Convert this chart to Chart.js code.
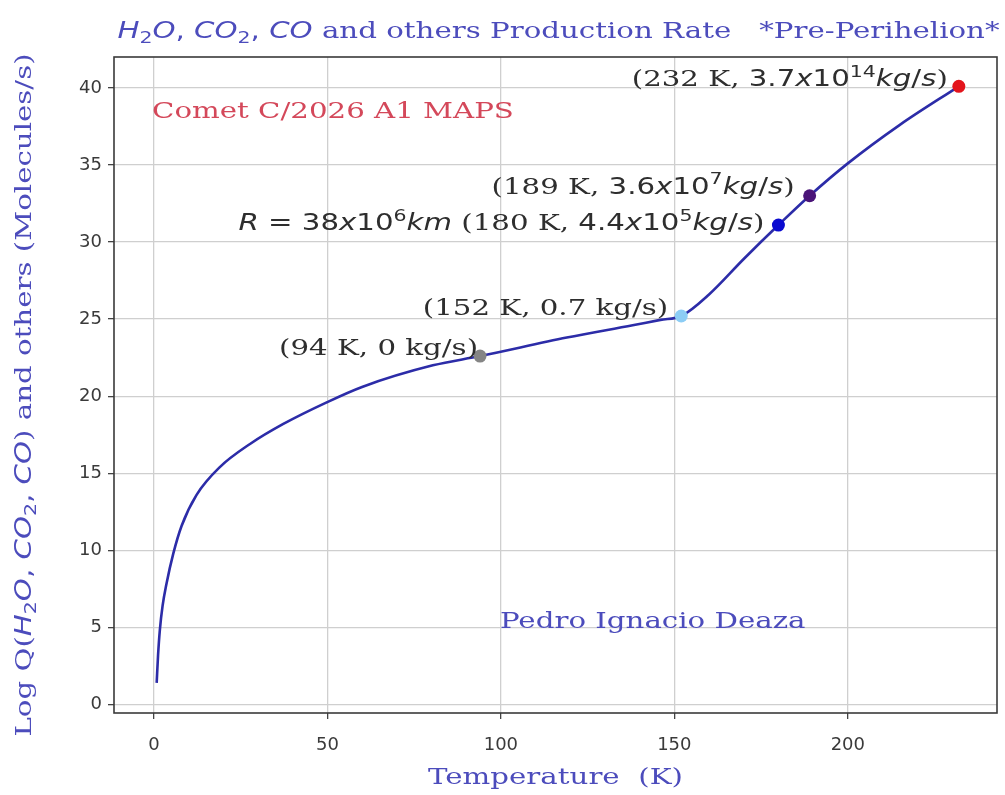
<!DOCTYPE html>
<html>
<head>
<meta charset="utf-8">
<script src="https://cdn.jsdelivr.net/npm/chart.js@4.4.1/dist/chart.umd.min.js"></script>
<style>
  html, body { margin: 0; padding: 0; background: #fff; }
  #wrap { width: 1005px; height: 795px; }
</style>
</head>
<body>
<div id="wrap"><canvas id="chart" width="1005" height="795"></canvas></div>
<script>
// production curve, temperature (K) vs log Q
const temperatureK = [0.8, 1.2, 1.7, 2.5, 3.6, 5.6, 8, 12.3, 19, 27.7, 37.3, 49.8, 60, 80.4, 94, 119, 138, 146, 152, 160, 170, 180, 189, 200, 215, 232];
const logQ =         [1.4, 3.2, 4.8, 6.4, 7.8, 9.8, 11.6, 13.6, 15.4, 16.9, 18.2, 19.6, 20.6, 22.0, 22.6, 23.8, 24.6, 24.95, 25.2, 26.6, 28.9, 31.1, 33.0, 35.1, 37.6, 40.1];

// highlighted points
const markerK = [94, 152, 180, 189, 232];
const markerQ = [22.6, 25.2, 31.1, 33.0, 40.1];
const markerColors = ['#858585', '#8ccdf5', '#0a0ad0', '#4a1478', '#e3141c'];
const markerLabels = [
  '(94 K, 0 kg/s)',
  '(152 K, 0.7 kg/s)',
  '$R = 38x10^6km$ (180 K, $4.4x10^5kg/s$)',
  '(189 K, $3.6x10^7kg/s$)',
  '(232 K, $3.7x10^{14}kg/s$)'
];

const xTicks = [0, 50, 100, 150, 200];
const yTicks = [0, 5, 10, 15, 20, 25, 30, 35, 40];

const SERIF = '"DejaVu Serif"';
const SANS = '"DejaVu Sans"';
const STRETCH = 1.3;

// tiny mathtext-ish parser: $...$ gives italic letters, upright digits, _x / ^{..} scripts
function parseRich(str) {
  const runs = [];
  let math = false;
  const push = (c, m, shift) => {
    const last = runs[runs.length - 1];
    if (last && last.m === m && last.shift === shift) last.t += c;
    else runs.push({ t: c, m, shift });
  };
  for (let i = 0; i < str.length; i++) {
    const c = str[i];
    if (c === '$') { math = !math; continue; }
    if (!math) { push(c, 's', 0); continue; }
    if (c === '_' || c === '^') {
      const shift = c === '_' ? -1 : 1;
      let grp;
      if (str[i + 1] === '{') { const j = str.indexOf('}', i); grp = str.slice(i + 2, j); i = j; }
      else { grp = str[i + 1]; i++; }
      for (const g of grp) push(g, /[A-Za-z]/.test(g) ? 'i' : 'r', shift);
      continue;
    }
    push(c, /[A-Za-z]/.test(c) ? 'i' : 'r', 0);
  }
  return runs;
}

function runFont(r, size) {
  const s = r.shift ? size * 0.7 : size;
  if (r.m === 'i') return `italic ${s}px ${SANS}`;
  if (r.m === 'r') return `${s}px ${SANS}`;
  return `${s}px ${SERIF}`;
}

// draws rich text; y is the vertical centre of the line
function drawRich(ctx, str, x, y, size, align, color) {
  const runs = parseRich(str);
  let w = 0;
  for (const r of runs) { ctx.font = runFont(r, size); r.w = ctx.measureText(r.t).width; w += r.w; }
  ctx.save();
  ctx.translate(x, y);
  ctx.scale(STRETCH, 1);
  let cx = align === 'center' ? -w / 2 : align === 'right' ? -w : 0;
  ctx.fillStyle = color;
  ctx.textBaseline = 'alphabetic';
  ctx.textAlign = 'left';
  const base = size * 0.36;
  for (const r of runs) {
    ctx.font = runFont(r, size);
    const dy = r.shift < 0 ? size * 0.22 : r.shift > 0 ? -size * 0.42 : 0;
    ctx.fillText(r.t, cx, base + dy);
    cx += r.w;
  }
  ctx.restore();
}

const textLayer = {
  id: 'textLayer',
  afterDraw(chart) {
    const { ctx, chartArea: a, scales } = chart;
    // frame on all four sides
    ctx.save();
    ctx.strokeStyle = '#3a3a3a';
    ctx.lineWidth = 1.6;
    ctx.strokeRect(a.left, a.top, a.right - a.left, a.bottom - a.top);
    ctx.restore();

    const blue = '#4c4cbc';
    drawRich(ctx, '$H_2O, CO_2, CO$ and others Production Rate   *Pre-Perihelion*', (a.left + a.right) / 2 + 3, 30, 22.5, 'center', blue);
    drawRich(ctx, 'Temperature  (K)', (a.left + a.right) / 2, 776, 22.5, 'center', blue);
    ctx.save();
    ctx.translate(23, (a.top + a.bottom) / 2 + 10);
    ctx.rotate(-Math.PI / 2);
    drawRich(ctx, 'Log Q($H_2O, CO_2, CO$) and others (Molecules/s)', 0, 0, 22.5, 'center', blue);
    ctx.restore();

    drawRich(ctx, 'Comet C/2026 A1 MAPS', 152, 110, 22.5, 'left', '#d4485a');
    drawRich(ctx, 'Pedro Ignacio Deaza', 500, 620, 22.5, 'left', blue);

    // point labels, offsets from each marker
    const offs = [[-2, -9], [-13, -9], [-14, -3], [-15, -10], [-11, -8]];
    markerLabels.forEach((lab, i) => {
      const px = scales.x.getPixelForValue(markerK[i]);
      const py = scales.y.getPixelForValue(markerQ[i]);
      drawRich(ctx, lab, px + offs[i][0], py + offs[i][1], 22.5, 'right', '#2e2e2e');
    });
  }
};

new Chart(document.getElementById('chart'), {
  type: 'scatter',
  data: {
    datasets: [
      {
        data: markerK.map((k, i) => ({ x: k, y: markerQ[i] })),
        pointBackgroundColor: markerColors,
        pointBorderWidth: 0,
        pointRadius: 6.5,
        showLine: false,
        order: 0
      },
      {
        data: temperatureK.map((k, i) => ({ x: k, y: logQ[i] })),
        showLine: true,
        borderColor: '#2c2ca8',
        borderWidth: 2.6,
        pointRadius: 0,
        cubicInterpolationMode: 'monotone',
        order: 1
      }
    ]
  },
  options: {
    responsive: false,
    animation: false,
    layout: { padding: { top: 57, right: 8, left: 0, bottom: 0 } },
    plugins: { legend: { display: false }, tooltip: { enabled: false } },
    scales: {
      x: {
        type: 'linear',
        min: -11.5,
        max: 243,
        afterBuildTicks: s => { s.ticks = xTicks.map(v => ({ value: v })); },
        afterFit: s => { s.height = 82; },
        grid: { color: '#cfcfcf', lineWidth: 1.3, tickLength: 6, tickColor: '#444', tickWidth: 1.3 },
        border: { display: false },
        ticks: { color: '#3a3a3a', font: { family: 'DejaVu Sans', size: 18 }, padding: 16 }
      },
      y: {
        min: -0.55,
        max: 42,
        afterBuildTicks: s => { s.ticks = yTicks.map(v => ({ value: v })); },
        afterFit: s => { s.width = 114; },
        grid: { color: '#cfcfcf', lineWidth: 1.3, tickLength: 6, tickColor: '#444', tickWidth: 1.3 },
        border: { display: false },
        ticks: { color: '#3a3a3a', font: { family: 'DejaVu Sans', size: 18 }, padding: 6 }
      }
    }
  },
  plugins: [textLayer]
});
</script>
</body>
</html>
